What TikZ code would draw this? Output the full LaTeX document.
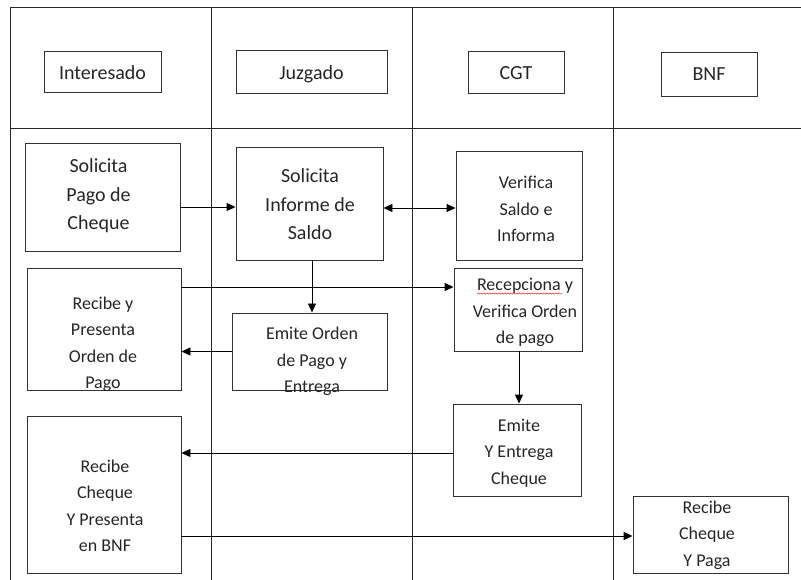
\documentclass[tikz,border=0pt]{standalone}
\usepackage{fontspec}
\setmainfont{Carlito}
\usetikzlibrary{arrows.meta,decorations.pathmorphing}
\tikzset{
  frame/.style={draw=black!85, line width=1pt},
  box/.style={draw=black!80, line width=0.9pt, inner sep=0pt, fill=none},
  big/.style={align=center, font=\fontsize{20}{28.5}\selectfont, text=black!85, inner sep=0pt},
  small/.style={align=center, font=\fontsize{18}{26.5}\selectfont, text=black!85, inner sep=0pt},
  arr/.style={draw=black, line width=0.9pt, -{Triangle[length=9pt,width=8pt]}},
  darr/.style={draw=black, line width=0.9pt, {Triangle[length=9pt,width=8pt]}-{Triangle[length=9pt,width=8pt]}}
}
\begin{document}
\begin{tikzpicture}[x=1pt,y=-1pt]
\useasboundingbox (0,0) rectangle (801,580);
% frame
\draw[frame] (10,580) -- (10,8) -- (801,8);
\draw[frame] (10,128.5) -- (801,128.5);
\draw[frame] (211,8) -- (211,580);
\draw[frame] (412,8) -- (412,580);
\draw[frame] (613,8) -- (613,580);
% headers
\node[box, minimum width=117pt, minimum height=41pt] (hi) at (102.5,71.5) {};
\node[big] at (102.5,72.5) {Interesado};
\node[box, minimum width=151pt, minimum height=43pt] (hj) at (311.5,71.5) {};
\node[big] at (311.5,74.5) {Juzgado};
\node[box, minimum width=96pt, minimum height=42pt] (hc) at (516,72) {};
\node[big] at (516,73) {CGT};
\node[box, minimum width=96pt, minimum height=44pt] (hb) at (709,74) {};
\node[big] at (709,74) {BNF};
% body boxes
\node[box, minimum width=155pt, minimum height=108pt] (spc) at (102.5,197) {};
\node[big] at (98.5,196) {Solicita\\Pago de\\Cheque};
\node[box, minimum width=147pt, minimum height=113pt] (sis) at (309.5,203.5) {};
\node[big] at (310,204.5) {Solicita\\Informe de\\Saldo};
\node[box, minimum width=126pt, minimum height=109pt] (vsi) at (519,205.5) {};
\node[small] at (526,209) {Verifica\\Saldo e\\Informa};
\node[box, minimum width=154pt, minimum height=122pt] (rp) at (104,329) {};
\node[small] at (103,344.5) {Recibe y\\Presenta\\Orden de\\Pago};
\node[box, minimum width=155pt, minimum height=77pt] (eo) at (309.5,351.5) {};
\node[small] at (312,361.5) {Emite Orden\\de Pago y\\Entrega};
\node[box, minimum width=128pt, minimum height=83pt] (rv) at (518,309.5) {};
\node[small] at (525,312.5) {Recepciona y\\Verifica Orden\\de pago};
\draw[red, line width=0.4pt, decorate, decoration={snake, amplitude=0.7pt, segment length=3pt}] (477,293.5) -- (562,293.5);
\node[box, minimum width=128pt, minimum height=92pt] (eyc) at (517,450) {};
\node[small] at (519,453) {Emite\\Y Entrega\\Cheque};
\node[box, minimum width=154pt, minimum height=157pt] (rc) at (104,494.5) {};
\node[small] at (105,506) {Recibe\\Cheque\\Y Presenta\\en BNF};
\node[box, minimum width=155pt, minimum height=77pt] (rcp) at (710.5,534.5) {};
\node[small] at (707,535) {Recibe\\Cheque\\Y Paga};
% connectors
\draw[arr] ([yshift=-10pt]spc.east) -- ([yshift=-10pt]spc.east -| sis.west);
\draw[darr] ([yshift=-4.5pt]sis.east) -- ([yshift=-4.5pt]sis.east -| vsi.west);
\draw[arr] ([xshift=2.5pt]sis.south) -- ([xshift=2.5pt]sis.south |- eo.north);
\draw[arr] (eo.west) -- (eo.west -| rp.east);
\draw[arr] ([yshift=42pt]rp.east) -- ([yshift=42pt]rp.east -| rv.west);
\draw[arr] ([xshift=1pt]rv.south) -- ([xshift=1pt]rv.south |- eyc.north);
\draw[arr] ([yshift=-3pt]eyc.west) -- ([yshift=-3pt]eyc.west -| rc.east);
\draw[arr] ([yshift=-41.5pt]rc.east) -- ([yshift=-41.5pt]rc.east -| rcp.west);
\end{tikzpicture}
\end{document}
